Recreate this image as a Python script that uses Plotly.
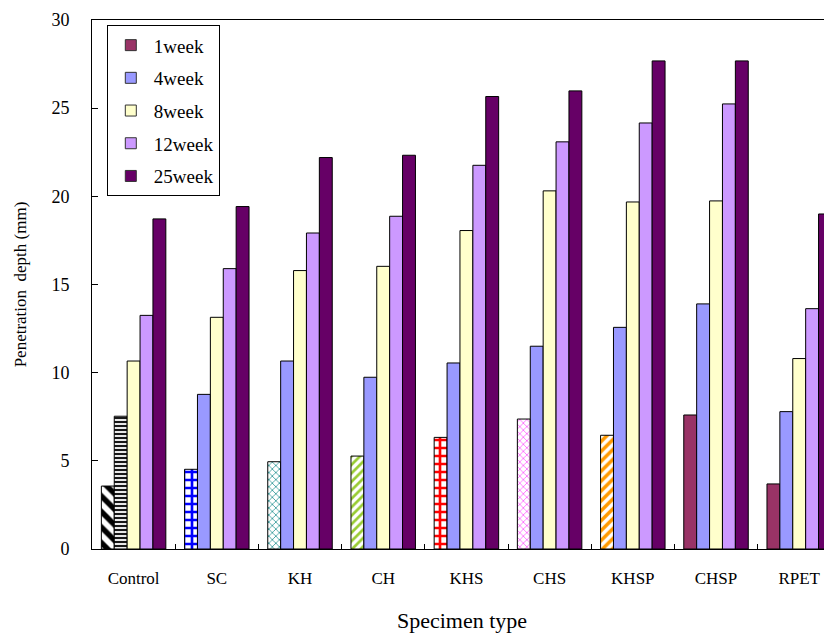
import plotly.graph_objects as go

categories = ["Control", "SC", "KH", "CH", "KHS", "CHS", "KHSP", "CHSP", "RPET"]
series_names = ["1week", "4week", "8week", "12week", "25week"]
week1 = [3.57, 4.52, 4.95, 5.27, 6.33, 7.37, 6.45, 7.6, 3.69]
week4 = [7.53, 8.77, 10.66, 9.74, 10.55, 11.5, 12.57, 13.9, 7.79]
week8 = [10.66, 13.14, 15.79, 16.03, 18.06, 20.31, 19.68, 19.74, 10.8]
week12 = [13.25, 15.9, 17.92, 18.87, 21.76, 23.09, 24.16, 25.24, 13.63]
week25 = [18.72, 19.42, 22.2, 22.33, 25.66, 25.98, 27.68, 27.68, 19.0]
y_ticks = [0, 5, 10, 15, 20, 25, 30]

colors = ["#993366", "#9999FF", "#FFFFCC", "#CC99FF", "#660066"]

# per-specimen fill patterns of the 1week bars
p1_shape = ["\\", "+", "x", "/", "+", "x", "/", "", ""]
p1_fg = ["#000000", "#0000FF", "#339999", "#99CC33", "#FF0000", "#FF66FF", "#FF9900", "#993366", "#993366"]
p1_bg = ["#FFFFFF"] * 7 + ["#993366", "#993366"]
p1_size = [11, 8, 5, 6, 8, 5, 7, 8, 8]
p1_sol = [0.5, 0.55, 0.3, 0.45, 0.55, 0.3, 0.5, 0.3, 0.3]

# 4week Control bar is horizontally striped
p4_shape = ["-", "", "", "", "", "", "", "", ""]
p4_fg = ["#000000"] + ["#9999FF"] * 8
p4_bg = ["#E8E8E8"] + ["#9999FF"] * 8

data = [week1, week4, week8, week12, week25]

fig = go.Figure()
line = dict(color="#000000", width=1)
for i, (name, vals) in enumerate(zip(series_names, data)):
    marker = dict(color=colors[i], line=line)
    if i == 0:
        marker["pattern"] = dict(shape=p1_shape, fgcolor=p1_fg, bgcolor=p1_bg,
                                 size=p1_size, solidity=p1_sol, fillmode="replace")
    elif i == 1:
        marker["pattern"] = dict(shape=p4_shape, fgcolor=p4_fg, bgcolor=p4_bg,
                                 size=4, solidity=0.45, fillmode="replace")
    fig.add_trace(go.Bar(x=categories, y=vals, name=name, marker=marker,
                         showlegend=False, legendgroup=name))

# legend swatches (solid colours, as in the reference legend)
for i, name in enumerate(series_names):
    fig.add_trace(go.Scatter(x=[None], y=[None], mode="markers", name=name,
                             legendgroup=name,
                             marker=dict(symbol="square", size=11, color=colors[i],
                                         line=dict(color="#333333", width=1))))

serif = "Liberation Serif, Times New Roman, serif"
# the page body adds an 8px offset, so the figure is 8px smaller on each side
fig.update_layout(
    width=824, height=629,
    margin=dict(l=84, r=0, t=12, b=88, autoexpand=False),
    paper_bgcolor="white", plot_bgcolor="white",
    font=dict(family=serif, size=17, color="#000000"),
    barmode="group", bargap=0.225, bargroupgap=0,
    showlegend=True,
    legend=dict(x=0.02, y=0.99, xanchor="left", yanchor="top",
                bgcolor="white", bordercolor="#000000", borderwidth=1,
                font=dict(family=serif, size=19), tracegroupgap=5,
                itemwidth=36, traceorder="grouped"),
)
fig.update_xaxes(
    type="category", categoryorder="array", categoryarray=categories,
    range=[-0.5, 8.394], automargin=False,
    showline=True, linecolor="#000000", linewidth=1, mirror=True,
    ticks="inside", tickson="boundaries", ticklen=5, tickcolor="#000000",
    showgrid=False, zeroline=False,
    tickfont=dict(family=serif, size=17), ticklabelstandoff=14,
    title=dict(text="Specimen type", font=dict(family=serif, size=22), standoff=25),
)
fig.update_yaxes(
    range=[0, 30], tickvals=y_ticks, automargin=False,
    showline=True, linecolor="#000000", linewidth=1,
    ticks="inside", ticklen=6, tickcolor="#000000",
    showgrid=False, zeroline=False,
    tickfont=dict(family=serif, size=18), ticklabelstandoff=18,
    title=dict(text="Penetration\u00a0 depth (mm)", font=dict(family=serif, size=17), standoff=20),
)

fig.write_html("out.html")
